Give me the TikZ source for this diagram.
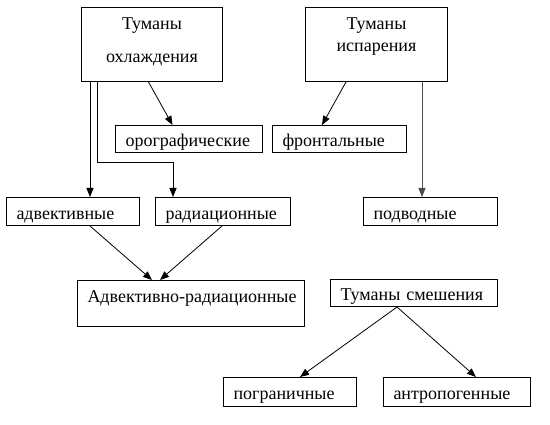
\documentclass[tikz,border=0pt]{standalone}
\usepackage{fontspec}
\setmainfont{Liberation Serif}
\usetikzlibrary{arrows.meta}

\begin{document}
\begin{tikzpicture}[x=1pt,y=-1pt,
  box/.style={draw,line width=1pt,inner sep=0pt,anchor=north west,font=\fontsize{18}{21.6}\selectfont},
  word/.style={box,align=left,inner xsep=10pt,text height=16pt,text depth=0pt},
  arr/.style={-{Triangle[length=9pt,width=7pt]},line width=0.8pt}]
  \useasboundingbox (0,0) rectangle (550,425);
  \node[box,align=center,minimum width=141pt,minimum height=74pt,text depth=9pt] (cool) at (81,7) {Туманы\\[11pt]охлаждения};
  \node[box,align=center,minimum width=142pt,minimum height=74pt,text depth=20pt] (evap) at (305,7) {Туманы\\испарения};
  \foreach \nm/\x/\y/\w/\h/\txt in {oro/115/125/147/27/орографические,
      front/272/125/134/27/фронтальные, adv/6/197/133/28/адвективные,
      rad/155/197/135/28/радиационные, under/363/197/134/28/подводные,
      mix/330/279/167/27/Туманы~смешения, border/223/377/133/29/пограничные,
      anthro/383/377/147/29/антропогенные}{
    \pgfmathsetmacro\tw{\w-20}
    \node[word,text width=\tw pt,minimum height=\h pt] (\nm) at (\x,\y) {\mbox{\txt}};
  }
  \node[box,align=left,inner xsep=10pt,text width=207pt,minimum height=46pt,text height=12pt,text depth=14.6pt] (advrad) at (77,280) {\mbox{Адвективно-радиационные}};

  \coordinate (c1) at ([xshift=9pt]cool.south west);
  \coordinate (c2) at ([xshift=16pt]cool.south west);
  \coordinate (rb) at ([xshift=18pt]rad.north west);
  \coordinate (e1) at ([xshift=117pt]evap.south west);
  \draw[arr] ([xshift=-3.5pt]cool.south) -- ([xshift=-16.5pt]oro.north);
  \draw[arr] (c1) -- (c1 |- adv.north);
  \draw[arr] (c2) |- ([yshift=35pt]rb) -- (rb);
  \draw[arr] ([xshift=41pt]evap.south west) -- ([xshift=50pt]front.north west);
  \draw[arr,black!70] (e1) -- (e1 |- under.north);
  \draw[arr] ([xshift=84pt]adv.south west) -- ([xshift=75pt]advrad.north west);
  \draw[arr] ([xshift=67pt]rad.south west) -- ([xshift=83pt]advrad.north west);
  \draw[arr] ([xshift=67pt]mix.south west) -- ([xshift=77pt]border.north west);
  \draw[arr] ([xshift=67pt]mix.south west) -- ([xshift=93pt]anthro.north west);
\end{tikzpicture}
\end{document}
